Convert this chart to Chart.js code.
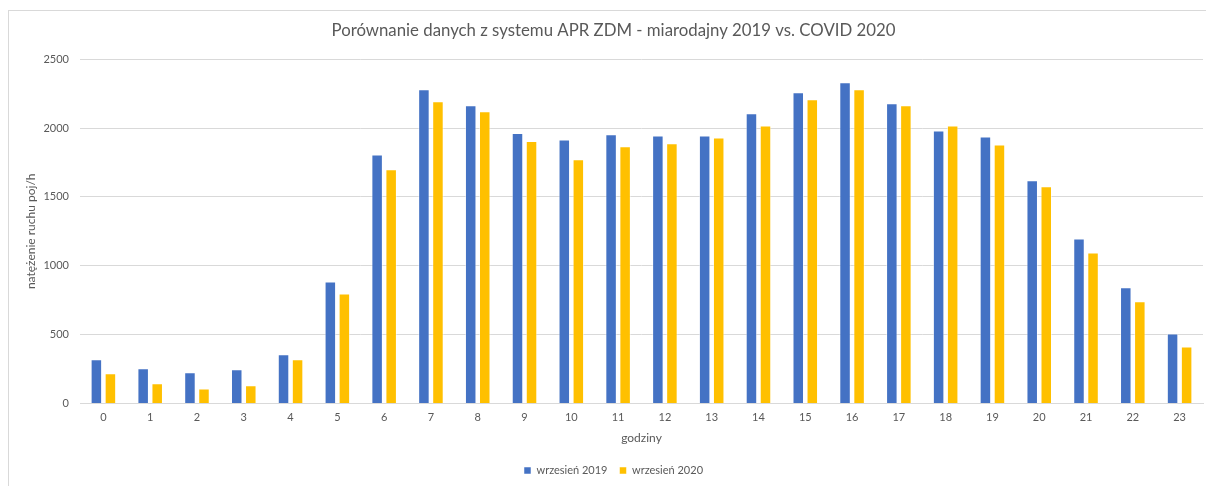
<!DOCTYPE html>
<html>
<head>
<meta charset="utf-8">
<script src="https://cdn.jsdelivr.net/npm/chart.js@4"></script>
<style>
  html, body { margin: 0; padding: 0; background: #fff; }
  #wrap { width: 1206px; height: 486px; position: relative; }
</style>
</head>
<body>
<div id="wrap"><canvas id="myChart"></canvas></div>
<script>
var hours = ['0','1','2','3','4','5','6','7','8','9','10','11','12','13','14','15','16','17','18','19','20','21','22','23'];
var sep2019 = [321, 255, 226, 248, 357, 886, 1807, 2281, 2165, 1963, 1917, 1954, 1946, 1946, 2108, 2259, 2332, 2179, 1982, 1939, 1620, 1198, 843, 507];
var sep2020 = [219, 146, 109, 131, 321, 799, 1700, 2194, 2121, 1905, 1773, 1867, 1890, 1931, 2019, 2208, 2281, 2165, 2019, 1880, 1577, 1096, 741, 413];
var yTicks = [0, 500, 1000, 1500, 2000, 2500];

var grey = '#595959';
var fontFam = 'Lato, "Open Sans", sans-serif';

// light frame around the whole chart, like the Excel chart area
var framePlugin = {
  id: 'frame',
  beforeDraw: function (chart) {
    var c = chart.ctx;
    c.save();
    c.fillStyle = '#fff';
    c.fillRect(0, 0, chart.width, chart.height);
    c.strokeStyle = '#d9d9d9';
    c.lineWidth = 1;
    c.strokeRect(8.5, 10.5, chart.width + 10, chart.height + 10);
    c.restore();
  }
};

(function () {
  var ctx = document.getElementById('myChart');

  var myChart = new Chart(ctx, {
    type: 'bar',
    data: {
      labels: hours,
      datasets: [{
        label: 'wrzesień 2019',
        data: sep2019,
        backgroundColor: '#4472C4',
        borderColor: 'rgba(255,255,255,0.5)',
        borderWidth: 1
      },
      {
        label: 'wrzesień 2020',
        data: sep2020,
        backgroundColor: '#FFC000',
        borderColor: 'rgba(255,255,255,0.5)',
        borderWidth: 1
      }]
    },
    options: {
      responsive: true,
      maintainAspectRatio: false,
      animation: false,
      layout: { padding: { left: 24, right: 3, bottom: 0 } },
      datasets: { bar: { categoryPercentage: 0.6, barPercentage: 0.82 } },
      plugins: {
        title: {
          display: true,
          text: 'Porównanie danych z systemu APR ZDM - miarodajny 2019 vs. COVID 2020',
          color: grey,
          font: { family: fontFam, size: 16.8, weight: 'normal' },
          padding: { top: 21, bottom: 18 }
        },
        legend: {
          position: 'bottom',
          labels: {
            color: grey,
            boxWidth: 7,
            boxHeight: 7,
            padding: 12,
            font: { family: fontFam, size: 11 }
          }
        },
        tooltip: { enabled: false }
      },
      scales: {
        x: {
          grid: { display: false, drawTicks: false },
          border: { display: true, color: '#d9d9d9' },
          ticks: { color: grey, font: { family: fontFam, size: 11 }, padding: 7 },
          title: {
            display: true,
            text: 'godziny',
            color: grey,
            font: { family: fontFam, size: 12 },
            padding: { top: 0, bottom: 8 }
          }
        },
        y: {
          min: 0,
          max: 2500,
          afterBuildTicks: function (s) { s.ticks = yTicks.map(function (v) { return { value: v }; }); },
          afterFit: function (s) { s.width = 56; },
          grid: { color: '#d9d9d9', drawTicks: false },
          border: { display: false },
          ticks: {
            color: grey,
            font: { family: fontFam, size: 11 },
            padding: 11,
            callback: function (v) { return String(v); }
          },
          title: {
            display: true,
            text: 'natężenie ruchu poj/h',
            color: grey,
            font: { family: fontFam, size: 12 },
            padding: { top: 0, bottom: 4 }
          }
        }
      }
    },
    plugins: [framePlugin]
  });
}());
</script>
</body>
</html>
